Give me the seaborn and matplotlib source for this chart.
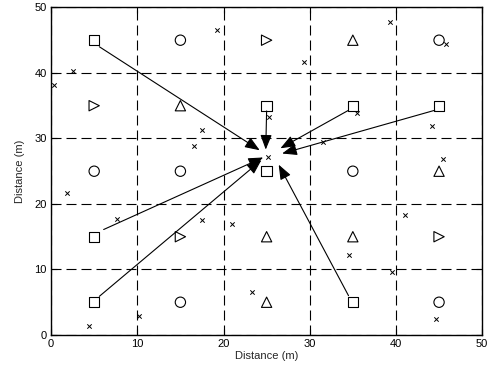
import numpy as np
import pandas as pd
import matplotlib as mpl
import matplotlib.pyplot as plt
import seaborn as sns

mpl.use("Agg")

# grid of nodes (5 x 5), symbol type for each
node_x = [5, 15, 25, 35, 45,
          5, 15, 25, 35, 45,
          5, 15, 25, 35, 45,
          5, 15, 25, 35, 45,
          5, 15, 25, 35, 45]
node_y = [45, 45, 45, 45, 45,
          35, 35, 35, 35, 35,
          25, 25, 25, 25, 25,
          15, 15, 15, 15, 15,
          5, 5, 5, 5, 5]
node_kind = ["square", "circle", "right", "up", "circle",
             "right", "up", "square", "square", "square",
             "circle", "circle", "square", "circle", "up",
             "square", "right", "up", "up", "right",
             "square", "circle", "up", "square", "circle"]

# small crosses
cross_x = [19.2, 2.6, 0.3, 17.5, 16.6, 25.3, 25.2, 39.3, 45.8, 29.3, 35.5,
           44.2, 31.5, 45.4, 1.8, 7.7, 17.5, 21.0, 23.3, 10.2, 4.4, 41.0,
           34.6, 39.6, 44.6]
cross_y = [46.5, 40.3, 38.1, 31.3, 28.9, 33.3, 27.1, 47.8, 44.4, 41.6, 33.9,
           31.9, 29.5, 26.9, 21.6, 17.7, 17.5, 16.9, 6.6, 2.95, 1.4, 18.3,
           12.2, 9.6, 2.5]

# arrows: start -> tip
arrow_x0 = [5.6, 25.0, 34.5, 44.5, 6.1, 5.6, 34.5]
arrow_y0 = [44.0, 34.2, 34.3, 34.3, 16.1, 5.9, 6.0]
arrow_x1 = [24.2, 24.9, 26.6, 26.8, 24.6, 24.4, 26.4]
arrow_y1 = [28.2, 28.3, 28.5, 27.7, 27.1, 26.7, 26.0]

sns.set_style("ticks")
plt.rcParams["font.family"] = ["Liberation Sans", "DejaVu Sans"]

fig = plt.figure(figsize=(4.91, 3.72), dpi=100)
ax = fig.add_axes([0.104, 0.0995, 0.878, 0.8805])

nodes = pd.DataFrame({"x": node_x, "y": node_y, "kind": node_kind})
sns.scatterplot(data=nodes, x="x", y="y", style="kind",
                markers={"square": "s", "circle": "o", "right": ">", "up": "^"},
                color="white", edgecolor="black", linewidth=0.8, s=55,
                legend=False, ax=ax, zorder=3)

crosses = pd.DataFrame({"x": cross_x, "y": cross_y})
sns.scatterplot(data=crosses, x="x", y="y", marker="x", color="black",
                s=10, linewidth=0.7, legend=False, ax=ax, zorder=3)

for x0, y0, x1, y1 in zip(arrow_x0, arrow_y0, arrow_x1, arrow_y1):
    ax.annotate("", xy=(x1, y1), xytext=(x0, y0),
                arrowprops=dict(arrowstyle="-|>,head_length=0.9,head_width=0.35",
                                color="black", lw=0.8, shrinkA=0, shrinkB=0),
                zorder=4)

ax.set_xlim(0, 50)
ax.set_ylim(0, 50)
ax.set_xticks(range(0, 51, 10))
ax.set_yticks(range(0, 51, 10))
ax.grid(True, color="black", linestyle=(0, (9, 4.5)), linewidth=0.8)
ax.tick_params(direction="in", length=4, width=0.8, labelsize=8,
               top=True, right=True, colors="black", pad=3)
for sp in ax.spines.values():
    sp.set_visible(True)
    sp.set_color("black")
    sp.set_linewidth(1.0)
ax.set_xlabel("Distance (m)", fontsize=8, labelpad=1)
ax.set_ylabel("Distance (m)", fontsize=8, labelpad=7)

fig.savefig("out.png", dpi=100, facecolor="white")
